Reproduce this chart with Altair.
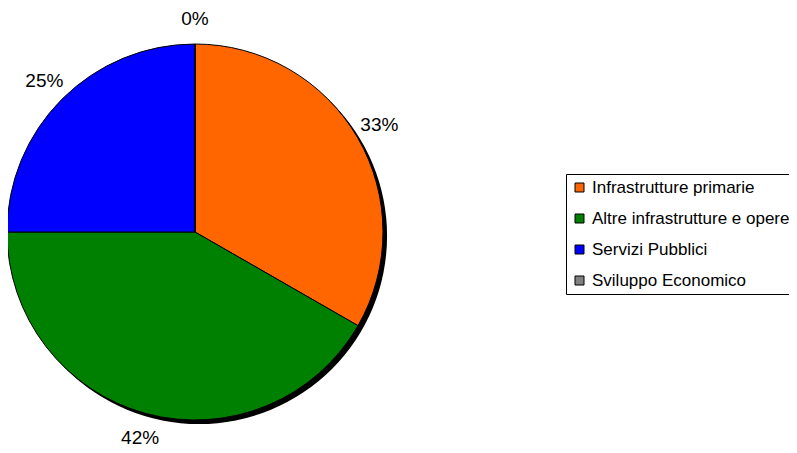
import altair as alt
import pandas as pd

categories = ["Infrastrutture primarie", "Altre infrastrutture e opere", "Servizi Pubblici", "Sviluppo Economico"]
values = [33.3, 41.7, 25.0, 0.0]
labels = ["33%", "42%", "25%", "0%"]
colors = ["#FF6600", "#008000", "#0000FF", "#808080"]

df = pd.DataFrame({"cat": categories, "val": values, "lab": labels, "ord": list(range(len(categories)))})

CX, CY, R = 187, 224, 188

base = alt.Chart(df)

shadow = alt.Chart(pd.DataFrame({"v": [sum(values)]})).mark_arc(
    radius=R, color="black"
).encode(
    theta=alt.Theta("v:Q"),
    x=alt.value(CX + 4), y=alt.value(CY + 4),
)

pie = base.mark_arc(radius=R, stroke="black", strokeWidth=1).encode(
    theta=alt.Theta("val:Q", stack=True),
    order=alt.Order("ord:Q"),
    color=alt.Color("cat:N", scale=alt.Scale(domain=categories, range=colors), sort=categories,
                    legend=alt.Legend(
                        title=None, orient="none", legendX=558, legendY=166,
                        symbolType="square", symbolSize=81, symbolStrokeColor="black",
                        symbolStrokeWidth=1, labelFont="Liberation Sans", labelFontSize=17,
                        labelColor="black", rowPadding=13, strokeColor="black",
                        padding=5, fillColor="white", labelLimit=400, labelOffset=4)),
    x=alt.value(CX), y=alt.value(CY),
)

text = base.mark_text(radius=213, font="Liberation Sans", fontSize=19, color="black").encode(
    theta=alt.Theta("val:Q", stack=True),
    order=alt.Order("ord:Q"),
    text="lab:N",
    x=alt.value(CX), y=alt.value(CY),
)

chart = alt.layer(shadow, pie, text).properties(
    width=781, height=445, autosize=alt.AutoSizeParams(type="none"), padding=0
).configure_view(stroke=None)

chart.save("out.html", embed_options={"renderer": "svg", "actions": False})
